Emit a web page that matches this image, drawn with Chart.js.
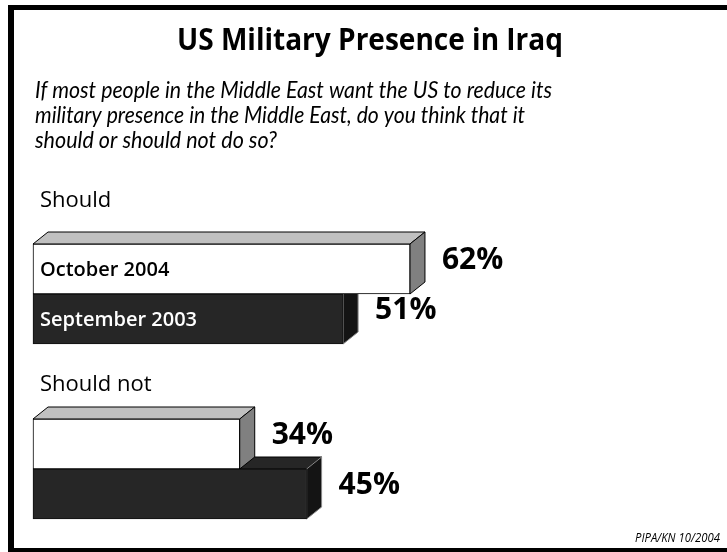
<!DOCTYPE html>
<html lang="en">
<head>
<meta charset="UTF-8">
<title>US Military Presence in Iraq</title>
<script src="https://cdn.jsdelivr.net/npm/chart.js"></script>
<style>
  html, body { margin: 0; padding: 0; background: #fff; overflow: hidden; }
  #wrap { position: relative; width: 727px; height: 552px; }
</style>
</head>
<body>
<div id="wrap"><canvas id="chart" width="727" height="552"></canvas></div>
<script>
// values
const answers = ['Should', 'Should not'];
const seriesNames = ['October 2004', 'September 2003'];
const oct2004 = [62, 34];
const sep2003 = [51, 45];

const titleText = 'US Military Presence in Iraq';
const questionLines = [
  'If most people in the Middle East want the US to reduce its',
  'military presence in the Middle East, do you think that it',
  'should or should not do so?'
];
const sourceNote = 'PIPA/KN 10/2004';

// 3d extrusion of the bars
const DX = 15, DY = 12;
// distance of the answer headings above each group centre
const headingGap = [87, 78];

const framePlugin = {
  id: 'frame',
  beforeDraw(chart) {
    const ctx = chart.ctx;
    ctx.save();
    ctx.fillStyle = '#fff';
    ctx.fillRect(0, 0, chart.width, chart.height);
    // black frame, open on the right
    ctx.fillStyle = '#000';
    ctx.fillRect(8, 5, 6, 547);
    ctx.fillRect(8, 5, 719, 5);
    ctx.fillRect(8, 548, 719, 4);

    ctx.fillStyle = '#000';
    ctx.textBaseline = 'alphabetic';
    ctx.textAlign = 'center';
    ctx.font = 'bold 30px "Open Sans"';
    ctx.fillText(titleText, 370, 50, 386);

    ctx.textAlign = 'left';
    ctx.font = 'italic 24px Lato';
    const widths = [517, 490, 242];
    questionLines.forEach((line, i) => {
      ctx.fillText(line, 35, 98 + i * 25, widths[i]);
    });

    ctx.textAlign = 'right';
    ctx.font = 'italic 12px "Open Sans"';
    ctx.fillText(sourceNote, 720, 542, 85);
    ctx.restore();
  }
};

function face(ctx, pts, fill, stroke) {
  ctx.beginPath();
  ctx.moveTo(pts[0][0], pts[0][1]);
  for (let i = 1; i < pts.length; i++) ctx.lineTo(pts[i][0], pts[i][1]);
  ctx.closePath();
  ctx.fillStyle = fill;
  ctx.fill();
  ctx.strokeStyle = stroke;
  ctx.lineWidth = 1;
  ctx.stroke();
}

const depthPlugin = {
  id: 'depth',
  beforeDatasetsDraw(chart) {
    const ctx = chart.ctx;
    const look = [
      { top: '#c0c0c0', side: '#808080', line: '#000' },
      { top: '#262626', side: '#141414', line: '#888' }
    ];
    ctx.save();
    // lower (dark) bars first so the white ones sit over them
    [1, 0].forEach(d => {
      chart.getDatasetMeta(d).data.forEach(bar => {
        const p = bar.getProps(['x', 'y', 'base', 'height'], true);
        const top = p.y - p.height / 2, bottom = p.y + p.height / 2;
        const left = p.base, right = p.x;
        face(ctx, [[left, top], [left + DX, top - DY], [right + DX, top - DY], [right, top]], look[d].top, '#000');
        face(ctx, [[right, top], [right + DX, top - DY], [right + DX, bottom - DY], [right, bottom]], look[d].side, look[d].line);
      });
    });
    ctx.restore();
  },
  afterDatasetsDraw(chart) {
    const ctx = chart.ctx;
    const yScale = chart.scales.y;
    ctx.save();
    ctx.textBaseline = 'alphabetic';
    ctx.textAlign = 'left';
    ctx.fillStyle = '#000';
    ctx.font = '22px "Open Sans"';
    answers.forEach((a, i) => {
      ctx.fillText(a, 40, yScale.getPixelForValue(i) - headingGap[i]);
    });

    ctx.textBaseline = 'middle';
    [0, 1].forEach(d => {
      const bars = chart.getDatasetMeta(d).data;
      // series names only inside the first group
      const first = bars[0].getProps(['y', 'base'], true);
      ctx.font = '600 20px "Open Sans"';
      ctx.fillStyle = d === 0 ? '#000' : '#fff';
      ctx.fillText(seriesNames[d], first.base + 7, first.y + 1);

      ctx.fillStyle = '#000';
      ctx.font = 'bold 30px "Open Sans"';
      bars.forEach((bar, i) => {
        const p = bar.getProps(['x', 'y'], true);
        const v = chart.data.datasets[d].data[i];
        ctx.fillText(v + '%', p.x + 32, p.y - 9);
      });
    });
    ctx.restore();
  }
};

new Chart(document.getElementById('chart'), {
  type: 'bar',
  data: {
    labels: answers,
    datasets: [
      {
        label: seriesNames[0],
        data: oct2004,
        backgroundColor: '#ffffff',
        borderColor: '#000000',
        borderWidth: 1,
        borderSkipped: false,
        barThickness: 50,
        clip: false
      },
      {
        label: seriesNames[1],
        data: sep2003,
        backgroundColor: '#262626',
        borderColor: '#111111',
        borderWidth: 1,
        borderSkipped: false,
        barThickness: 50,
        clip: false
      }
    ]
  },
  options: {
    indexAxis: 'y',
    responsive: false,
    animation: false,
    devicePixelRatio: 1,
    layout: { padding: { left: 33, right: 86, top: 294, bottom: 83 } },
    scales: {
      x: { min: 0, max: 100, display: false },
      y: { type: 'category', offset: false, display: false }
    },
    plugins: {
      legend: { display: false },
      tooltip: { enabled: false }
    }
  },
  plugins: [framePlugin, depthPlugin]
});
</script>
</body>
</html>
